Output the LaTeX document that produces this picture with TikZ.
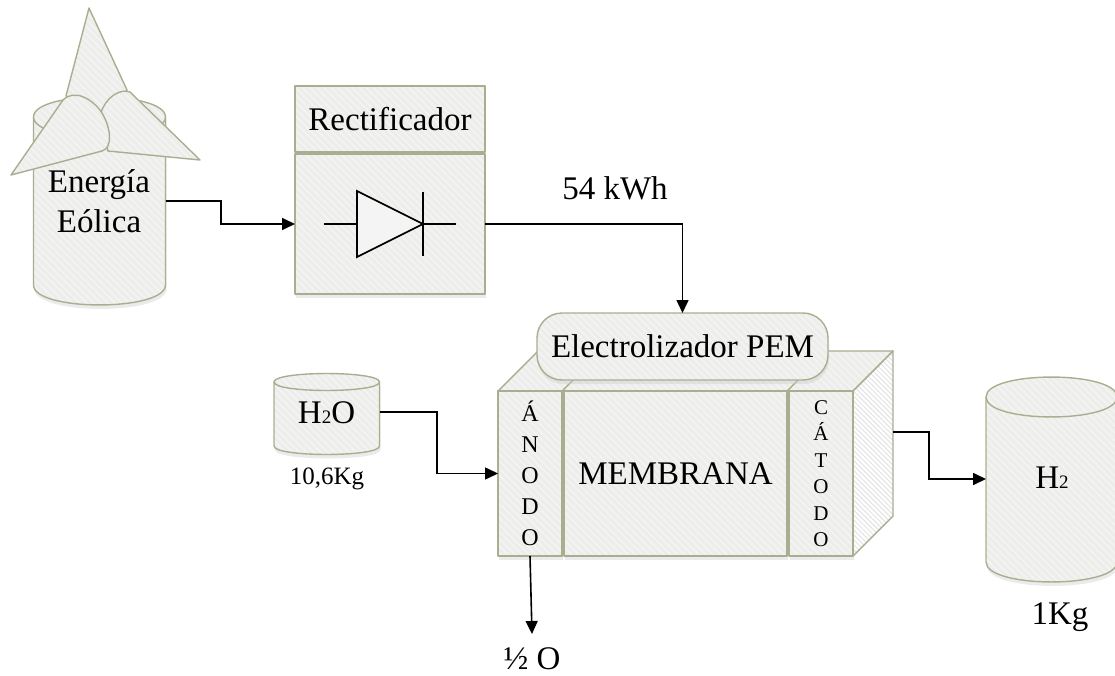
\documentclass[tikz,border=0pt]{standalone}
\usepackage{fontspec}
\setmainfont{Liberation Serif}
\usetikzlibrary{arrows.meta,patterns.meta,shadows,fit}
\definecolor{edgeC}{HTML}{A9AE90}
\definecolor{faceC}{HTML}{EDEDEC}
\definecolor{hatchC}{HTML}{F4F4F3}
\tikzset{
  x=1pt,y=-1pt,
  hatched/.style={draw=edgeC,line width=1.4pt,line join=round,
    preaction={fill=faceC},
    preaction={pattern={Lines[angle=-45,distance=5pt,line width=1.6pt]},pattern color=hatchC}},
  shaded box/.style={general shadow={shadow xshift=1pt,shadow yshift=-4pt,fill=black!20,opacity=.4},hatched},
  sidehatch/.style={draw=edgeC,line width=1.4pt,line join=round,
    preaction={fill=white},
    preaction={pattern={Lines[angle=-45,distance=3.5pt,line width=1pt]},pattern color=black!11}},
  label/.style={inner sep=0pt,font=\fontsize{33}{38}\selectfont,align=center},
  flow/.style={draw=black,line width=1.6pt,-{Triangle[length=13pt,width=12pt]}},
  hidden/.style={inner sep=0pt,outer sep=0pt},
  diode/.style={draw=black,line width=1.6pt}
}
\newcommand{\cyl}[5]{% x0 x1 ytop ybottom ry
  \draw[shaded box] (#1,#3) .. controls (#1,{#3-1.33*#5}) and (#2,{#3-1.33*#5}) .. (#2,#3)
    -- (#2,#4) .. controls (#2,{#4+1.33*#5}) and (#1,{#4+1.33*#5}) .. (#1,#4) -- cycle;
  \draw[draw=edgeC,line width=1.4pt] (#1,#3) .. controls (#1,{#3+1.33*#5}) and (#2,{#3+1.33*#5}) .. (#2,#3);
}
\newcommand{\subtwo}{{\fontsize{19}{20}\selectfont 2}}
\begin{document}
\begin{tikzpicture}
\useasboundingbox (0,0) rectangle (1115,676);
% wind cylinder
\cyl{33.5}{165.5}{117}{285}{20}
\node[hidden,minimum width=132pt,minimum height=190pt] (eolica) at (99.5,201) {};
% blades
\draw[hatched] (89,8) -- (127,90) -- (105,130) -- (66,96) -- cycle;
\draw[hatched] (200,160) -- (130,92) .. controls (120,88) and (105,98) .. (101,113) -- (108,151) -- cycle;
\draw[hatched] (11,175) -- (63,100) .. controls (74,89) and (92,98) .. (102,113)
  .. controls (111,128) and (113,148) .. (102,151) -- cycle;
\node[label] (eolicatxt) at (99,201) {Energía\\[2pt]Eólica};
% rectifier
\node[shaded box,hidden,minimum width=190pt,minimum height=66pt,label] (rtitle) at (390,119) {Rectificador};
\node[shaded box,hidden,minimum width=190pt,minimum height=140pt] (rect) at (390,224) {};
\coordinate (dl) at (324,224);
\coordinate (dr) at (456,224);
\coordinate (da) at (357,224);
\coordinate (dk) at (423,224);
\draw[diode,fill=faceC!60!white,line join=miter] (357,191) -- (dk) -- (357,257) -- cycle;
\draw[diode] (dl) -- (da) (dk) -- (dr) (423,192) -- (423,256);
% electrolyser box
\draw[shaded box] (498,391) -- (538,351) -- (893,351) -- (853,391) -- cycle;
\draw[sidehatch] (853,391) -- (893,351) -- (893,516) -- (853,556) -- cycle;
\draw[edgeC,line width=1.4pt] (562,391) -- (578,375) (787,391) -- (803,375);
\node[shaded box,hidden,minimum width=64pt,minimum height=165pt,align=center,font=\fontsize{24}{31}\selectfont] (anodo) at (530,473.5) {Á\\N\\O\\D\\O};
\node[shaded box,hidden,minimum width=223pt,minimum height=165pt,label] (memb) at (675.5,473.5) {MEMBRANA};
\node[shaded box,hidden,minimum width=64pt,minimum height=165pt,align=center,font=\fontsize{21}{26.5}\selectfont] (catodo) at (821,473.5) {C\\Á\\T\\O\\D\\O};
\node[hidden,minimum width=40pt,minimum height=165pt] (side) at (873,433.5) {};
\node[shaded box,hidden,rounded corners=25pt,minimum width=291pt,minimum height=67pt,label] (pem) at (682.5,346.5) {Electrolizador PEM};
% water
\cyl{274}{379.5}{382}{446}{8.5}
\node[hidden,minimum width=105.5pt,minimum height=80pt] (agua) at (326.75,412) {};
\node[label] (aguatxt) at (326.5,413) {H\subtwo O};
\node[inner sep=0pt,font=\fontsize{25}{28}\selectfont] (kgagua) at (327,479) {10,6Kg};
% hydrogen
\cyl{986}{1117}{397}{562}{20}
\node[hidden,minimum width=131pt,minimum height=190pt] (hidro) at (1051.5,479) {};
\node[label] (hidrotxt) at (1052,478) {H\subtwo};
\node[label] (kghidro) at (1060,617) {1Kg};
% other labels
\node[label] (kwh) at (615,188) {54 kWh};
\node[label] (oxi) at (532,659) {½ O};
\coordinate (oxiend) at (532,634);
% connectors
\draw[flow] (eolica.east |- 0,201) -- (221,201) -- (221,224) -- (rect.west);
\draw[flow] (rect.east) -- (682.5,224) -- (pem.north);
\draw[flow] (agua.east) -- (437,412) -- (437,473.5) -- (anodo.west);
\draw[flow] (side.east |- 0,432) -- (929,432) -- (929,479) -- (hidro.west);
\draw[flow] (anodo.south) -- (oxiend);
\end{tikzpicture}
\end{document}
